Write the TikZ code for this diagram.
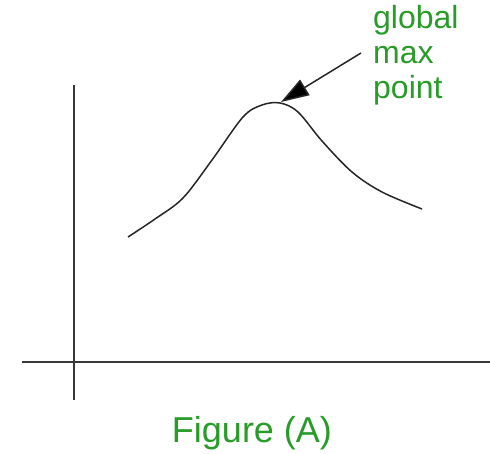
\documentclass[tikz,border=0pt]{standalone}
\usepackage{fontspec}
\setmainfont{Liberation Sans}
\usetikzlibrary{arrows.meta}
\definecolor{lblgreen}{RGB}{40,155,40}
\definecolor{axisgray}{RGB}{55,55,55}
\begin{document}
\begin{tikzpicture}[x=1pt,y=-1pt,
  axis/.style={draw=axisgray,line width=1.6pt},
  curve/.style={draw=black!85,line width=1.5pt},
  lbl/.style={text=lblgreen,inner sep=0pt,font=\fontsize{32}{35}\selectfont},
  caption/.style={text=lblgreen,inner sep=0pt,font=\fontsize{36}{40}\selectfont},
  pointer/.style={draw=black!85,line width=1.5pt,-{Triangle[length=28pt,width=18pt,fill=black]}}]
\useasboundingbox (0,0) rectangle (490,453);
\fill[white] (0,0) rectangle (490,453);
% axes
\coordinate (ytop) at (74,85);
\coordinate (ybot) at (74,400);
\coordinate (xleft) at (22,362);
\coordinate (xright) at (490,362);
\draw[axis] (ytop) -- (ybot);
\draw[axis] (xleft) -- (xright);
% curve
\draw[curve] plot[smooth,tension=0.55] coordinates {(128,237) (155,219) (183,198) (212,160) (243,117) (262,105) (280,103) (298,112) (322,141) (352,172) (382,192) (422,209)};
% labels
\node[lbl,anchor=base west] (l1) at (373,28) {global};
\node[lbl,anchor=base west] (l2) at (373,63) {max};
\node[lbl,anchor=base west] (l3) at (373,98) {point};
\coordinate (tail) at (361,53);
\coordinate (peak) at (281,102);
\draw[pointer] (tail) -- (peak);
\node[caption,anchor=base] (cap) at (252,442) {Figure (A)};
\end{tikzpicture}
\end{document}
